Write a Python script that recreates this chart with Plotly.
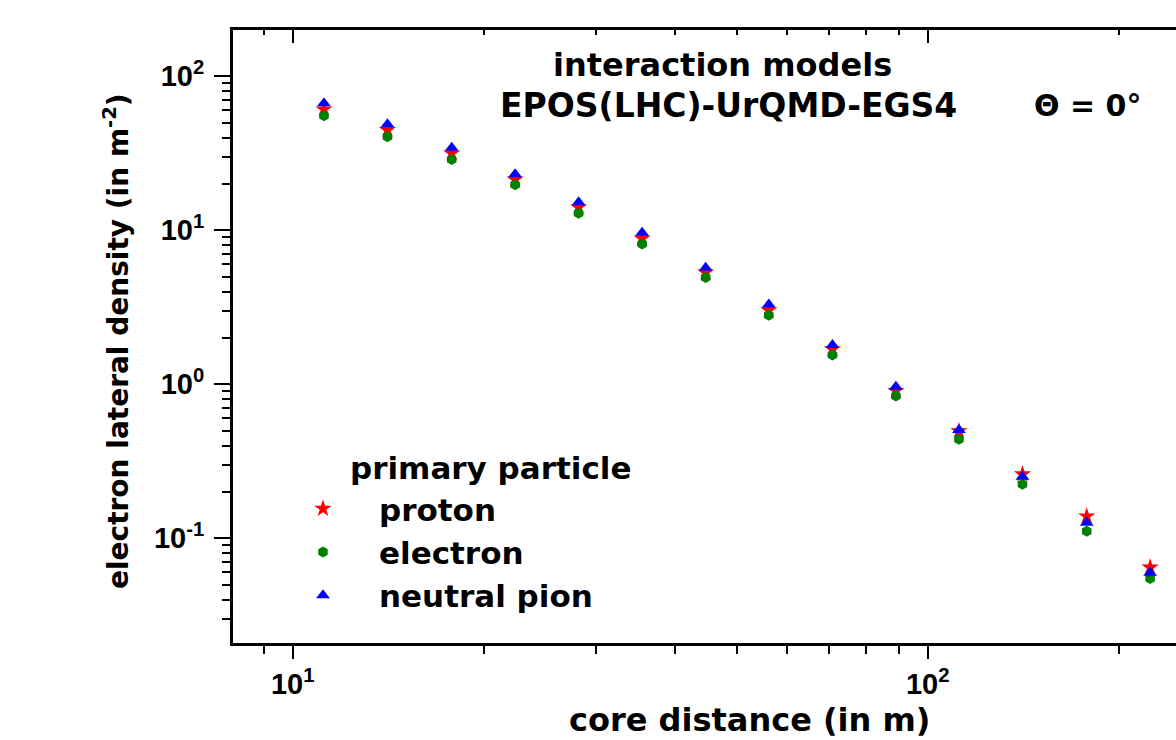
import plotly.graph_objects as go

# ---- data ----
core_distance = [11.2, 14.1, 17.8, 22.4, 28.2, 35.5, 44.7, 56.2, 70.8, 89.1, 112, 141, 178, 224]
proton = [61.0, 44.8, 31.6, 21.4, 14.1, 8.86, 5.33, 3.03, 1.69, 0.908, 0.497, 0.261, 0.139, 0.0647]
electron = [55.4, 40.5, 28.8, 19.7, 12.9, 8.13, 4.94, 2.80, 1.55, 0.838, 0.439, 0.224, 0.111, 0.0549]
neutral_pion = [66.7, 48.7, 34.3, 23.1, 15.2, 9.63, 5.71, 3.30, 1.80, 0.964, 0.504, 0.251, 0.126, 0.0597]

series_names = ["proton", "electron", "neutral pion"]

x_tick_vals = [10, 100]
x_tick_text = ["10<sup>1</sup>", "10<sup>2</sup>"]
y_tick_vals = [0.1, 1, 10, 100]
y_tick_text = ["10<sup>-1</sup>", "10<sup>0</sup>", "10<sup>1</sup>", "10<sup>2</sup>"]

W, H = 1176, 740
L, R, T, B = 233, 0, 30, 97
PW, PH = W - L - R, H - T - B

def px(x):
    return (x - L) / PW

def py(y):
    return (H - B - y) / PH

def txt(size):
    return dict(family="DejaVu Sans", size=size, color="black", weight="bold")

TICKF = dict(family="Liberation Sans", size=29, color="black", weight="bold")

fig = go.Figure()
fig.add_trace(go.Scatter(x=core_distance, y=proton, mode="markers", name=series_names[0],
                         marker=dict(symbol="star", size=13, color="#ff0000", line=dict(width=0))))
fig.add_trace(go.Scatter(x=core_distance, y=electron, mode="markers", name=series_names[1],
                         marker=dict(symbol="hexagon", size=11, color="#008000", line=dict(width=0))))
fig.add_trace(go.Scatter(x=core_distance, y=neutral_pion, mode="markers", name=series_names[2],
                         marker=dict(symbol="triangle-up", size=12, color="#0000ff", line=dict(width=0))))
# invisible trace on top axis so it is drawn
fig.add_trace(go.Scatter(x=[core_distance[0]], y=[proton[0]], xaxis="x2", mode="markers",
                         marker=dict(opacity=0), showlegend=False, hoverinfo="skip"))

xr = [1 - 59.7 / 635, 1 + 883.3 / 635]
yr = [-1.68, 2.3]

minor_out = lambda n: dict(ticks="outside", ticklen=n, tickwidth=2, tickcolor="black",
                           tickmode="linear", dtick="D1", showgrid=False)

fig.update_layout(
    width=W, height=H,
    margin=dict(l=L, r=R, t=T, b=B, autoexpand=False),
    paper_bgcolor="white", plot_bgcolor="white",
    showlegend=True,
    legend=dict(x=px(267), y=py(482), xanchor="left", yanchor="top",
                bgcolor="rgba(0,0,0,0)", borderwidth=0, font=txt(31),
                itemwidth=102, tracegroupgap=0),
    xaxis=dict(type="log", range=xr, showline=True, linecolor="black", linewidth=3,
               ticks="outside", ticklen=13, tickwidth=2, tickcolor="black",
               tickmode="array", tickvals=x_tick_vals, ticktext=x_tick_text,
               showgrid=False, zeroline=False,
               tickfont=TICKF, ticklabelstandoff=0,
               minor=minor_out(8)),
    xaxis2=dict(type="log", range=xr, overlaying="x", side="top", anchor="y",
                showline=True, linecolor="black", linewidth=3,
                ticks="inside", ticklen=13, tickwidth=2, tickcolor="black",
                tickmode="array", tickvals=x_tick_vals,
                showticklabels=False, showgrid=False, zeroline=False,
                minor=dict(ticks="inside", ticklen=5, tickwidth=2, tickcolor="black",
                           tickmode="linear", dtick="D1", showgrid=False)),
    yaxis=dict(type="log", range=yr, showline=True, linecolor="black", linewidth=3,
               ticks="outside", ticklen=16, tickwidth=2, tickcolor="black",
               tickmode="array", tickvals=y_tick_vals, ticktext=y_tick_text,
               showgrid=False, zeroline=False,
               tickfont=TICKF, ticklabelstandoff=4,
               minor=minor_out(8)),
)

ann = [
    dict(text="interaction models", x=px(722), y=py(65), size=32),
    dict(text="EPOS(LHC)-UrQMD-EGS4", x=px(728), y=py(106), size=33),
    dict(text="Θ = 0°", x=px(1087), y=py(106), size=30),
    dict(text="primary particle", x=px(490), y=py(468), size=31),
    dict(text="core distance (in m)", x=px(749), y=py(720), size=32),
]
for a in ann:
    fig.add_annotation(text=a["text"], x=a["x"], y=a["y"], xref="paper", yref="paper",
                       xanchor="center", yanchor="middle", showarrow=False, font=txt(a["size"]))
fig.add_annotation(text="electron lateral density (in m<sup>-2</sup>)", x=px(116), y=py(341),
                   xref="paper", yref="paper", xanchor="center", yanchor="middle",
                   textangle=-90, showarrow=False, font=txt(28))

fig.write_html("out.html", config={"displayModeBar": False},
               post_script="document.body.style.margin='0';document.body.style.overflow='hidden';")
